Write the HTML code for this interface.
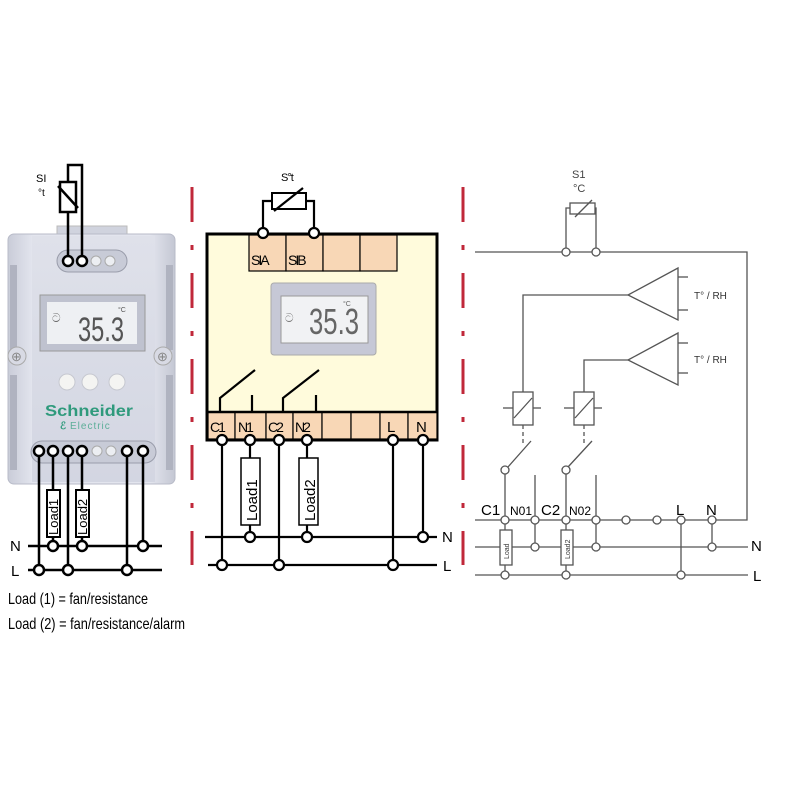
<!DOCTYPE html>
<html><head><meta charset="utf-8"><style>html,body{margin:0;padding:0;background:#fff}svg{display:block}text{font-family:"Liberation Sans",sans-serif}</style></head><body>
<svg width="800" height="800" viewBox="0 0 800 800" xmlns="http://www.w3.org/2000/svg">
<defs>
<linearGradient id="bd" x1="0" x2="1"><stop offset="0" stop-color="#c9ccd8"/><stop offset="0.15" stop-color="#e3e5ee"/><stop offset="0.85" stop-color="#e3e5ee"/><stop offset="1" stop-color="#c4c7d3"/></linearGradient>
<linearGradient id="fc" x1="0" y1="0" x2="0" y2="1"><stop offset="0" stop-color="#dfe1ea"/><stop offset="1" stop-color="#d3d6e2"/></linearGradient>
</defs>
<g stroke="#c0283a" stroke-width="3" stroke-dasharray="35 23 5 23">
<line x1="192" y1="187" x2="192" y2="565"/>
<line x1="463" y1="187" x2="463" y2="565"/>
</g>

<rect x="57" y="226" width="70" height="12" fill="#d0d3de" stroke="#bbb"/>
<rect x="8" y="234" width="167" height="250" rx="6" fill="url(#bd)" stroke="#b8bbc8"/>
<rect x="32" y="236" width="123" height="246" fill="url(#fc)"/>
<g fill="#b0b3c0">
<rect x="10" y="265" width="7" height="85"/><rect x="10" y="375" width="7" height="95"/>
<rect x="166" y="265" width="7" height="85"/><rect x="166" y="375" width="7" height="95"/>
</g>
<circle cx="17" cy="356" r="9" fill="#d8dae4" stroke="#aaa"/><text x="11" y="361" font-size="13" fill="#888">⊕</text>
<circle cx="163" cy="356" r="9" fill="#d8dae4" stroke="#aaa"/><text x="157" y="361" font-size="13" fill="#888">⊕</text>
<rect x="57" y="250" width="70" height="22" rx="11" fill="#c8cbd7" stroke="#9a9dab"/>
<rect x="31" y="441" width="125" height="22" rx="11" fill="#c8cbd7" stroke="#9a9dab"/>
<rect x="40" y="295" width="105" height="56" fill="#bfc2cf" stroke="#999"/>
<rect x="47" y="302" width="90" height="42" fill="#eef0f3"/>
<text x="52" y="322" font-size="12" fill="#666">ට</text>
<text x="78" y="341" font-size="34" fill="#555" textLength="46" lengthAdjust="spacingAndGlyphs">35.3</text>
<text x="118" y="312" font-size="7" fill="#555">°C</text>
<g fill="#f4f4f2" stroke="#c6c8d0"><circle cx="67" cy="382" r="8"/><circle cx="90" cy="382" r="8"/><circle cx="117" cy="382" r="8"/></g>
<text x="45" y="416" font-size="16" font-weight="bold" fill="#2f9a7c" textLength="88" lengthAdjust="spacingAndGlyphs">Schneider</text>
<text x="70" y="429" font-size="10" fill="#5cae98" letter-spacing="1">Electric</text>
<text x="60" y="429" font-size="10" font-weight="bold" fill="#2f9a7c">ℰ</text>
<g fill="#eceef2" stroke="#aaa"><circle cx="96" cy="261" r="5"/><circle cx="110" cy="261" r="5"/><circle cx="97" cy="451" r="5"/><circle cx="111" cy="451" r="5"/></g>

<g stroke="#000" stroke-width="2.5" fill="none">
<polyline points="68,261 68,165 82,165 82,261"/>
<rect x="60" y="182" width="16" height="30" fill="#fff"/>
<line x1="58" y1="186" x2="78" y2="208"/>
<line x1="39" y1="451" x2="39" y2="570"/>
<line x1="53" y1="451" x2="53" y2="490"/><line x1="53" y1="537" x2="53" y2="546"/>
<line x1="68" y1="451" x2="68" y2="570"/>
<line x1="82" y1="451" x2="82" y2="490"/><line x1="82" y1="537" x2="82" y2="546"/>
<line x1="127" y1="451" x2="127" y2="570"/>
<line x1="143" y1="451" x2="143" y2="546"/>
<line x1="28" y1="546" x2="162" y2="546"/>
<line x1="28" y1="570" x2="162" y2="570"/>
<rect x="47" y="490" width="13" height="47" fill="#fff" stroke-width="2"/>
<rect x="76" y="490" width="13" height="47" fill="#fff" stroke-width="2"/>
</g>
<g fill="#fff" stroke="#000" stroke-width="2.5">
<circle cx="68" cy="261" r="5"/><circle cx="82" cy="261" r="5"/>
<circle cx="39" cy="451" r="5"/><circle cx="53" cy="451" r="5"/><circle cx="68" cy="451" r="5"/><circle cx="82" cy="451" r="5"/><circle cx="127" cy="451" r="5"/><circle cx="143" cy="451" r="5"/>
<circle cx="53" cy="546" r="5"/><circle cx="82" cy="546" r="5"/><circle cx="143" cy="546" r="5"/>
<circle cx="39" cy="570" r="5"/><circle cx="68" cy="570" r="5"/><circle cx="127" cy="570" r="5"/>
</g>
<text transform="translate(58,535) rotate(-90)" font-size="13">Load1</text>
<text transform="translate(87,535) rotate(-90)" font-size="13">Load2</text>
<text x="36" y="182" font-size="11">SI</text><text x="38" y="196" font-size="10">°t</text>
<text x="10" y="551" font-size="15">N</text><text x="11" y="576" font-size="15">L</text>
<text x="8" y="604" font-size="16" textLength="140" lengthAdjust="spacingAndGlyphs">Load (1) = fan/resistance</text>
<text x="8" y="629" font-size="16" textLength="177" lengthAdjust="spacingAndGlyphs">Load (2) = fan/resistance/alarm</text>

<rect x="207" y="234" width="230" height="206" fill="#fffbdc" stroke="#000" stroke-width="3"/>
<g fill="#f8d7b6" stroke="#000" stroke-width="1.2">
<rect x="249" y="235" width="37" height="36"/><rect x="286" y="235" width="37" height="36"/><rect x="323" y="235" width="37" height="36"/><rect x="360" y="235" width="37" height="36"/>
<rect x="208" y="412" width="27" height="27"/><rect x="235" y="412" width="31" height="27"/><rect x="266" y="412" width="27" height="27"/><rect x="293" y="412" width="29" height="27"/><rect x="322" y="412" width="29" height="27"/><rect x="351" y="412" width="29" height="27"/><rect x="380" y="412" width="28" height="27"/><rect x="408" y="412" width="29" height="27"/>
</g>
<line x1="207" y1="412" x2="437" y2="412" stroke="#000" stroke-width="2.5"/>
<g font-size="14" letter-spacing="-2"><text x="251" y="265">SIA</text><text x="288" y="265">SIB</text>
<text x="210" y="432">C1</text><text x="238" y="432">N1</text><text x="268" y="432">C2</text><text x="295" y="432">N2</text></g>
<text x="387" y="432" font-size="15">L</text><text x="416" y="432" font-size="15">N</text>
<rect x="271" y="283" width="105" height="72" rx="3" fill="#c6c8d6" stroke="#aaa"/>
<rect x="281" y="296" width="87" height="47" fill="#f1f2f4" stroke="#999"/>
<text x="285" y="322" font-size="12" fill="#777">ට</text>
<text x="309" y="334" font-size="36" fill="#666" textLength="50" lengthAdjust="spacingAndGlyphs">35.3</text>
<text x="343" y="306" font-size="7" fill="#666">°C</text>
<g stroke="#000" stroke-width="2.2" fill="none">
<polyline points="263,233 263,201 272,201"/><polyline points="306,201 314,201 314,233"/>
<rect x="272" y="193" width="34" height="16" stroke-width="2"/>
<line x1="274" y1="211" x2="303" y2="188"/>
<polyline points="220,412 220,398 255,370"/><line x1="252" y1="395" x2="252" y2="412"/>
<polyline points="283,412 283,398 319,370"/><line x1="316" y1="395" x2="316" y2="412"/>
<line x1="222" y1="440" x2="222" y2="565"/>
<line x1="250" y1="440" x2="250" y2="458"/><line x1="250" y1="525" x2="250" y2="537"/>
<line x1="279" y1="440" x2="279" y2="565"/>
<line x1="307" y1="440" x2="307" y2="458"/><line x1="307" y1="525" x2="307" y2="537"/>
<line x1="393" y1="440" x2="393" y2="565"/>
<line x1="423" y1="440" x2="423" y2="537"/>
<line x1="205" y1="537" x2="437" y2="537"/>
<line x1="208" y1="565" x2="437" y2="565"/>
<rect x="241" y="458" width="19" height="67" fill="#fff" stroke-width="1.5"/>
<rect x="299" y="458" width="19" height="67" fill="#fff" stroke-width="1.5"/>
</g>
<g fill="#fff" stroke="#000" stroke-width="2.2">
<circle cx="263" cy="233" r="5"/><circle cx="314" cy="233" r="5"/>
<circle cx="222" cy="440" r="5"/><circle cx="250" cy="440" r="5"/><circle cx="279" cy="440" r="5"/><circle cx="307" cy="440" r="5"/><circle cx="393" cy="440" r="5"/><circle cx="423" cy="440" r="5"/>
<circle cx="250" cy="537" r="5"/><circle cx="307" cy="537" r="5"/><circle cx="423" cy="537" r="5"/>
<circle cx="222" cy="565" r="5"/><circle cx="279" cy="565" r="5"/><circle cx="393" cy="565" r="5"/>
</g>
<text transform="translate(257,521) rotate(-90)" font-size="15">Load1</text>
<text transform="translate(315,521) rotate(-90)" font-size="15">Load2</text>
<text x="281" y="181" font-size="11" letter-spacing="-1">S°t</text>
<text x="442" y="542" font-size="15">N</text><text x="443" y="571" font-size="15">L</text>

<g stroke="#555" stroke-width="1.3" fill="none">
<polyline points="566,252 566,208 570,208"/><polyline points="595,208 596,208 596,252"/>
<rect x="570" y="203" width="25" height="11"/><line x1="575" y1="217" x2="592" y2="200"/>
<polyline points="475,252 747,252 747,520 475,520"/>
<polygon points="628,295 678,268 678,320"/><line x1="678" y1="277" x2="688" y2="277"/><line x1="678" y1="310" x2="688" y2="310"/>
<polygon points="628,360 678,333 678,385"/><line x1="678" y1="343" x2="688" y2="343"/><line x1="678" y1="373" x2="688" y2="373"/>
<polyline points="628,295 523,295 523,392"/><polyline points="628,360 584,360 584,392"/>
<rect x="513" y="392" width="20" height="33"/><line x1="503" y1="408" x2="513" y2="408"/><line x1="533" y1="408" x2="541" y2="408"/><line x1="514" y1="418" x2="532" y2="398"/>
<rect x="574" y="392" width="20" height="33"/><line x1="564" y1="408" x2="574" y2="408"/><line x1="594" y1="408" x2="602" y2="408"/><line x1="575" y1="418" x2="593" y2="398"/>
<line x1="523" y1="425" x2="523" y2="445" stroke-dasharray="4 3"/><line x1="584" y1="425" x2="584" y2="445" stroke-dasharray="4 3"/>
<line x1="531" y1="441" x2="508" y2="467"/><line x1="592" y1="441" x2="568" y2="467"/>
<line x1="505" y1="470" x2="505" y2="530"/><line x1="505" y1="565" x2="505" y2="575"/>
<line x1="566" y1="470" x2="566" y2="530"/><line x1="566" y1="565" x2="566" y2="575"/>
<line x1="535" y1="475" x2="535" y2="547"/><line x1="596" y1="475" x2="596" y2="547"/>
<line x1="712" y1="520" x2="712" y2="547"/><line x1="681" y1="520" x2="681" y2="575"/>
<line x1="475" y1="547" x2="748" y2="547"/><line x1="475" y1="575" x2="748" y2="575"/>
<rect x="500" y="530" width="12" height="35" fill="#fff"/><rect x="561" y="530" width="12" height="35" fill="#fff"/>
</g>
<g fill="#fff" stroke="#555" stroke-width="1.3">
<circle cx="566" cy="252" r="4"/><circle cx="596" cy="252" r="4"/>
<circle cx="505" cy="470" r="4"/><circle cx="566" cy="470" r="4"/>
<circle cx="505" cy="520" r="4"/><circle cx="535" cy="520" r="4"/><circle cx="566" cy="520" r="4"/><circle cx="596" cy="520" r="4"/><circle cx="626" cy="520" r="4"/><circle cx="657" cy="520" r="4"/><circle cx="681" cy="520" r="4"/><circle cx="712" cy="520" r="4"/>
<circle cx="535" cy="547" r="4"/><circle cx="596" cy="547" r="4"/><circle cx="712" cy="547" r="4"/>
<circle cx="505" cy="575" r="4"/><circle cx="566" cy="575" r="4"/><circle cx="681" cy="575" r="4"/>
</g>
<text transform="translate(509,559) rotate(-90)" font-size="7" fill="#333">Load</text>
<text transform="translate(570,559) rotate(-90)" font-size="7" fill="#333">Load2</text>
<text x="572" y="178" font-size="11" fill="#444">S1</text><text x="573" y="192" font-size="11" fill="#444">°C</text>
<text x="694" y="299" font-size="10" fill="#333">T° / RH</text><text x="694" y="363" font-size="10" fill="#333">T° / RH</text>
<text x="481" y="515" font-size="15">C1</text><text x="510" y="515" font-size="12">N01</text>
<text x="541" y="515" font-size="15">C2</text><text x="569" y="515" font-size="12">N02</text>
<text x="676" y="515" font-size="15">L</text><text x="706" y="515" font-size="15">N</text>
<text x="751" y="551" font-size="15">N</text><text x="753" y="581" font-size="15">L</text>
</svg>
</body></html>
